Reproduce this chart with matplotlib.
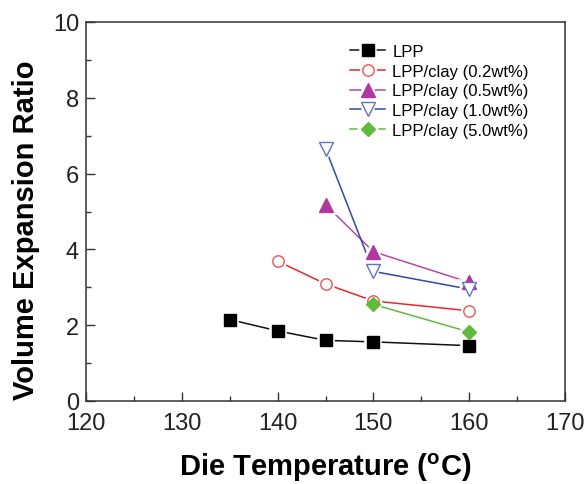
import matplotlib
matplotlib.use("Agg")
import matplotlib.pyplot as plt
from matplotlib.ticker import MultipleLocator
from matplotlib.legend_handler import HandlerTuple

plt.rcParams["font.family"] = ["Liberation Sans", "DejaVu Sans"]
plt.rcParams["mathtext.default"] = "regular"

# Die temperature (°C) and volume expansion ratio for each formulation
temp_lpp = [135, 140, 145, 150, 160]
ratio_lpp = [2.15, 1.85, 1.60, 1.56, 1.46]

temp_c02 = [140, 145, 150, 160]
ratio_c02 = [3.69, 3.09, 2.64, 2.38]

temp_c05 = [145, 150, 160]
ratio_c05 = [5.18, 3.94, 3.13]

temp_c10 = [145, 150, 160]
ratio_c10 = [6.66, 3.42, 2.95]

temp_c50 = [150, 160]
ratio_c50 = [2.55, 1.82]

labels = ["LPP", "LPP/clay (0.2wt%)", "LPP/clay (0.5wt%)",
          "LPP/clay (1.0wt%)", "LPP/clay (5.0wt%)"]

series = [
    (temp_lpp, ratio_lpp, dict(color="#111111", marker="s", ms=8.2, mfc="#000000", mec="#000000")),
    (temp_c02, ratio_c02, dict(color="#e8262c", marker="o", ms=8.2, mfc="white", mec="#e8545a")),
    (temp_c05, ratio_c05, dict(color="#b548a8", marker="^", ms=10.5, mfc="#b0389f", mec="#b0389f")),
    (temp_c10, ratio_c10, dict(color="#3446a6", marker="v", ms=10.0, mfc="white", mec="#6272bd")),
    (temp_c50, ratio_c50, dict(color="#62b845", marker="D", ms=7.0, mfc="#5fbb3c", mec="#5fbb3c")),
]

fig = plt.figure(figsize=(5.86, 4.85), dpi=100)
ax = fig.add_axes([86 / 586, 1 - 402 / 485, 479 / 586, 379 / 485])

handles = []
for (x, y, st) in series:
    ln, = ax.plot(x, y, color=st["color"], lw=1.1, zorder=2)
    gap, = ax.plot(x, y, ls="none", marker=st["marker"], ms=st["ms"],
                   mfc="white", mec="white", mew=4.0, zorder=3)
    mk, = ax.plot(x, y, ls="none", marker=st["marker"], ms=st["ms"],
                  mfc=st["mfc"], mec=st["mec"], mew=1.0, zorder=4)
    handles.append((ln, gap, mk))

ax.set_xlim(120, 170)
ax.set_ylim(0, 10)
ax.xaxis.set_major_locator(MultipleLocator(10))
ax.xaxis.set_minor_locator(MultipleLocator(5))
ax.yaxis.set_major_locator(MultipleLocator(2))
ax.yaxis.set_minor_locator(MultipleLocator(1))

ax.tick_params(which="both", direction="in", top=False, right=False,
               width=1.0, colors="#333333", labelcolor="#222222")
ax.tick_params(which="major", length=6.5, labelsize=17)
ax.tick_params(which="minor", length=3.5)
ax.tick_params(axis="x", which="major", pad=8)
ax.tick_params(axis="y", which="major", pad=5)

for sp in ax.spines.values():
    sp.set_linewidth(1.1)
    sp.set_color("#333333")

ax.set_xlabel("Die Temperature ($^{o}$C)", fontsize=21, fontweight="bold")
ax.set_ylabel("Volume Expansion Ratio", fontsize=21, fontweight="bold")
ax.xaxis.set_label_coords(0.5, -0.13)
ax.yaxis.set_label_coords(-0.097, 0.454)

leg = ax.legend(handles, labels, handler_map={tuple: HandlerTuple(ndivide=1)},
                loc="upper left", bbox_to_anchor=(350 / 586, 1 - 45 / 485),
                bbox_transform=fig.transFigure, frameon=False, fontsize=12,
                handlelength=2.1, handletextpad=0.45, labelspacing=0.28,
                borderpad=0, borderaxespad=0)

fig.savefig("out.png", dpi=100)
